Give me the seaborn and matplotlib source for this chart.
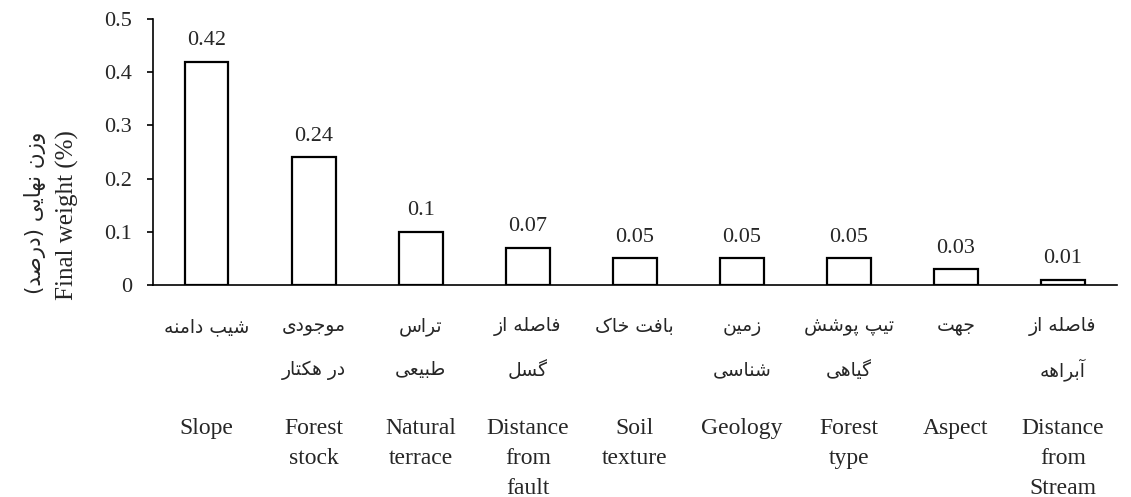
import matplotlib
matplotlib.use("Agg")
import matplotlib.pyplot as plt
import seaborn as sns
import pandas as pd

# ---------------- data ----------------
categories_en = ["Slope", "Forest\nstock", "Natural\nterrace", "Distance\nfrom\nfault",
                 "Soil\ntexture", "Geology", "Forest\ntype", "Aspect", "Distance\nfrom\nStream"]
categories_fa = ["شیب دامنه", "موجودی\nدر هکتار", "تراس\nطبیعی", "فاصله از\nگسل",
                 "بافت خاک", "زمین\nشناسی", "تیپ پوشش\nگیاهی", "جهت", "فاصله از\nآبراهه"]
weights = [0.42, 0.24, 0.10, 0.07, 0.05, 0.05, 0.05, 0.03, 0.01]
value_labels = ["0.42", "0.24", "0.1", "0.07", "0.05", "0.05", "0.05", "0.03", "0.01"]
y_ticks = [0, 0.1, 0.2, 0.3, 0.4, 0.5]
y_tick_labels = ["0", "0.1", "0.2", "0.3", "0.4", "0.5"]
ylabel_en = "Final weight (%)"
ylabel_fa = "وزن نهایی (درصد)"

# ---------------- minimal Persian shaping (matplotlib has no complex text layout) ----------------
FORMS = {  # isolated, final, initial, medial
    "ا": ("\uFE8D", "\uFE8E", None, None),
    "آ": ("\uFE81", "\uFE82", None, None),
    "ب": ("\uFE8F", "\uFE90", "\uFE91", "\uFE92"),
    "پ": ("\uFB56", "\uFB57", "\uFB58", "\uFB59"),
    "ت": ("\uFE95", "\uFE96", "\uFE97", "\uFE98"),
    "ج": ("\uFE9D", "\uFE9E", "\uFE9F", "\uFEA0"),
    "ح": ("\uFEA1", "\uFEA2", "\uFEA3", "\uFEA4"),
    "خ": ("\uFEA5", "\uFEA6", "\uFEA7", "\uFEA8"),
    "د": ("\uFEA9", "\uFEAA", None, None),
    "ر": ("\uFEAD", "\uFEAE", None, None),
    "ز": ("\uFEAF", "\uFEB0", None, None),
    "س": ("\uFEB1", "\uFEB2", "\uFEB3", "\uFEB4"),
    "ش": ("\uFEB5", "\uFEB6", "\uFEB7", "\uFEB8"),
    "ص": ("\uFEB9", "\uFEBA", "\uFEBB", "\uFEBC"),
    "ط": ("\uFEC1", "\uFEC2", "\uFEC3", "\uFEC4"),
    "ع": ("\uFEC9", "\uFECA", "\uFECB", "\uFECC"),
    "ف": ("\uFED1", "\uFED2", "\uFED3", "\uFED4"),
    "ک": ("\uFB8E", "\uFB8F", "\uFB90", "\uFB91"),
    "گ": ("\uFB92", "\uFB93", "\uFB94", "\uFB95"),
    "ل": ("\uFEDD", "\uFEDE", "\uFEDF", "\uFEE0"),
    "م": ("\uFEE1", "\uFEE2", "\uFEE3", "\uFEE4"),
    "ن": ("\uFEE5", "\uFEE6", "\uFEE7", "\uFEE8"),
    "ه": ("\uFEE9", "\uFEEA", "\uFEEB", "\uFEEC"),
    "و": ("\uFEED", "\uFEEE", None, None),
    "ی": ("\uFBFC", "\uFBFD", "\uFBFE", "\uFBFF"),
}
MIRROR = {"(": ")", ")": "("}


def shape_line(s):
    out = []
    n = len(s)
    for i, ch in enumerate(s):
        if ch not in FORMS:
            out.append(MIRROR.get(ch, ch))
            continue
        prev = s[i - 1] if i > 0 else None
        nxt = s[i + 1] if i < n - 1 else None
        join_prev = prev in FORMS and FORMS[prev][2] is not None
        join_next = nxt in FORMS and FORMS[ch][2] is not None
        iso, fin, ini, med = FORMS[ch]
        if join_prev and join_next:
            out.append(med)
        elif join_prev:
            out.append(fin)
        elif join_next:
            out.append(ini)
        else:
            out.append(iso)
    return "".join(reversed(out))


# ---------------- plot ----------------
sns.set_theme(style="white")
plt.rcParams["font.family"] = ["Liberation Serif", "DejaVu Sans"]

df = pd.DataFrame({"cat": categories_en, "w": weights})

fig = plt.figure(figsize=(11.31, 4.97), dpi=100)
ax = fig.add_axes([0.1353, 0.4266, 0.8519, 0.5352])

sns.barplot(data=df, x="cat", y="w", ax=ax, color="white", edgecolor="black",
            linewidth=1.6, width=0.41, saturation=1)

ax.set_ylim(0, 0.5)
ax.set_xlim(-0.5, len(categories_en) - 0.5)
ax.set_yticks(y_ticks)
ax.set_yticklabels(y_tick_labels, fontsize=16, family="Liberation Serif")
ax.tick_params(axis="y", which="major", direction="out", length=4.5, width=1.2, color="black",
               left=True, pad=10.5)
ax.tick_params(axis="x", bottom=False, labelbottom=False)
for s in ["top", "right"]:
    ax.spines[s].set_visible(False)
for s in ["left", "bottom"]:
    ax.spines[s].set_color("black")
    ax.spines[s].set_linewidth(1.2)
ax.set_xlabel("")
ax.set_ylabel("")

# value labels
for i, (w, lab) in enumerate(zip(weights, value_labels)):
    ax.annotate(lab, xy=(i, w), xytext=(0, 21 * 0.72), textcoords="offset points",
                ha="center", va="center", fontsize=16, family="Liberation Serif")

# Persian labels
for i, lab in enumerate(categories_fa):
    for j, line in enumerate(lab.split("\n")):
        ax.annotate(shape_line(line), xy=(i, 0), xycoords=("data", "axes fraction"),
                    xytext=(0, -(42 + 43 * j) * 0.72), textcoords="offset points",
                    ha="center", va="center", fontsize=13.5, family=["DejaVu Sans"])

# English labels
for i, lab in enumerate(categories_en):
    ax.annotate(lab, xy=(i, 0), xycoords=("data", "axes fraction"),
                xytext=(0, -133 * 0.72), textcoords="offset points",
                ha="center", va="top", fontsize=17, linespacing=1.55,
                family="Liberation Serif")

# y labels
fig.text(67 / 1131, 1 - 215 / 497, ylabel_en, rotation=90, ha="center", va="center",
         fontsize=18, family="Liberation Serif")
fig.text(35 / 1131, 1 - 213 / 497, shape_line(ylabel_fa), rotation=90, ha="center",
         va="center", fontsize=15.5, family=["DejaVu Sans"])

fig.savefig("out.png", dpi=100, facecolor="white")
